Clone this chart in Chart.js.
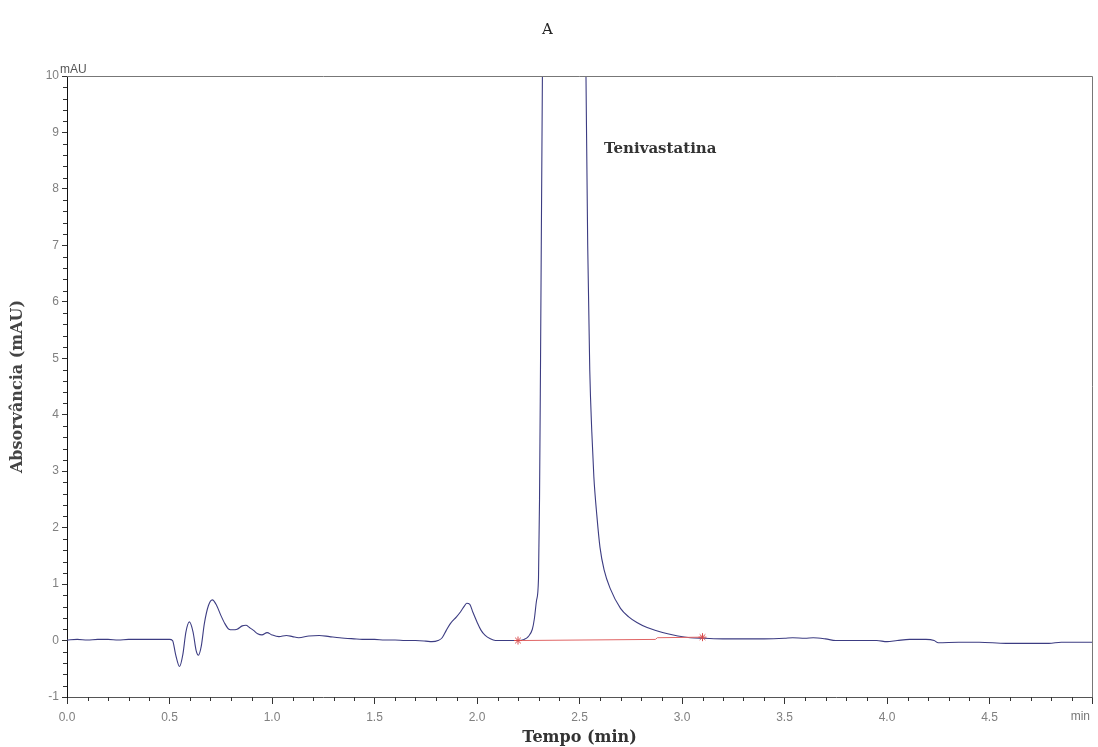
<!DOCTYPE html>
<html>
<head>
<meta charset="utf-8">
<title>Cromatograma A</title>
<script src="https://cdn.jsdelivr.net/npm/chart.js@4.4.1/dist/chart.umd.min.js"></script>
<style>
  html, body { margin: 0; padding: 0; background: #fff; }
  #wrap { width: 1098px; height: 747px; }
</style>
</head>
<body>
<div id="wrap"><canvas id="chromChart" width="1098" height="747"></canvas></div>
<script>
// retention time (min) / signal (mAU)
const retentionTimes = [
  0.00, 0.05, 0.10, 0.15, 0.20, 0.25, 0.30, 0.35, 0.40, 0.45, 0.50,
  0.515, 0.53, 0.549, 0.565, 0.58, 0.597, 0.615, 0.63, 0.641, 0.655, 0.67, 0.69,
  0.709, 0.73, 0.75, 0.77, 0.79, 0.806, 0.83, 0.855, 0.873, 0.89, 0.91, 0.93,
  0.951, 0.976, 1.00, 1.034, 1.07, 1.10, 1.13, 1.18, 1.23, 1.28, 1.33, 1.40,
  1.44, 1.50, 1.55, 1.60, 1.65, 1.70, 1.75, 1.78, 1.81, 1.83, 1.85, 1.87,
  1.90, 1.92, 1.94, 1.95, 1.965, 1.98, 2.00, 2.02, 2.04, 2.065, 2.09, 2.15,
  2.20, 2.23, 2.25, 2.27, 2.28, 2.29, 2.30, 2.305, 2.31, 2.32, 2.34, 2.38,
  2.42, 2.46, 2.50, 2.52, 2.53, 2.54, 2.55, 2.56, 2.57, 2.585, 2.60, 2.62,
  2.65, 2.70, 2.74, 2.78, 2.83, 2.88, 2.93, 2.98, 3.04, 3.11, 3.20, 3.30,
  3.40, 3.50, 3.54, 3.60, 3.64, 3.70, 3.75, 3.85, 3.95, 4.00, 4.05, 4.11,
  4.19, 4.23, 4.25, 4.35, 4.45, 4.58, 4.70, 4.79, 4.85, 5.00
];
const absorbance = [
  0.01, 0.02, 0.01, 0.02, 0.02, 0.01, 0.02, 0.02, 0.02, 0.02, 0.02,
  0.00, -0.25, -0.46, -0.25, 0.15, 0.33, 0.15, -0.18, -0.26, -0.10, 0.30, 0.62,
  0.72, 0.62, 0.45, 0.30, 0.20, 0.19, 0.20, 0.26, 0.27, 0.23, 0.18, 0.12,
  0.10, 0.14, 0.10, 0.07, 0.09, 0.07, 0.05, 0.08, 0.09, 0.07, 0.05, 0.03,
  0.02, 0.02, 0.01, 0.01, 0.00, 0.00, -0.01, -0.02, 0.00, 0.05, 0.18, 0.30,
  0.42, 0.51, 0.62, 0.66, 0.64, 0.50, 0.33, 0.18, 0.09, 0.03, 0.00, 0.00,
  0.00, 0.02, 0.07, 0.20, 0.39, 0.70, 1.10, 2.50, 5.00, 10.5, 18.0, 26.0,
  28.0, 25.0, 19.0, 14.0, 10.6, 7.0, 4.8, 3.7, 2.9, 2.2, 1.65, 1.25,
  0.92, 0.57, 0.42, 0.32, 0.23, 0.17, 0.12, 0.08, 0.05, 0.04, 0.03, 0.03,
  0.03, 0.04, 0.05, 0.04, 0.05, 0.03, 0.00, 0.00, 0.00, -0.02, 0.00, 0.02,
  0.02, 0.00, -0.04, -0.03, -0.03, -0.05, -0.05, -0.05, -0.03, -0.03
];

// integration baseline under the main peak
const baselineTimes = [2.20, 2.87, 2.88, 3.10];
const baselineValues = [0.00, 0.02, 0.05, 0.06];

const xTickLabels = ['0.0', '0.5', '1.0', '1.5', '2.0', '2.5', '3.0', '3.5', '4.0', '4.5', ''];
const peakLabel = { text: 'Tenivastatina', time: 2.62, value: 8.7 };

const serif = '"DejaVu Serif", "Liberation Serif", serif';
const sans = '"Liberation Sans", Arial, sans-serif';

// minor ticks, top/right frame and the little unit labels
const chromDecor = {
    id: 'chromDecor',
    afterDraw(chart) {
        const { ctx, chartArea: area, scales: { x, y } } = chart;
        ctx.save();
        ctx.lineWidth = 1;
        ctx.strokeStyle = '#333';
        ctx.beginPath();
        for (let i = 1; i < 50; i++) {
            if (i % 5 === 0) continue;
            const px = Math.round(x.getPixelForValue(i / 10)) + 0.5;
            ctx.moveTo(px, area.bottom);
            ctx.lineTo(px, area.bottom + 4);
        }
        for (let j = -4; j < 50; j++) {
            if (j % 5 === 0) continue;
            const py = Math.round(y.getPixelForValue(j / 5)) + 0.5;
            ctx.moveTo(area.left - 4, py);
            ctx.lineTo(area.left, py);
        }
        ctx.stroke();

        ctx.strokeStyle = '#777';
        ctx.beginPath();
        ctx.moveTo(area.left, Math.round(area.top) + 0.5);
        ctx.lineTo(Math.round(area.right) + 0.5, Math.round(area.top) + 0.5);
        ctx.lineTo(Math.round(area.right) + 0.5, area.bottom);
        ctx.stroke();

        ctx.fillStyle = '#555';
        ctx.font = '12px ' + sans;
        ctx.textBaseline = 'middle';
        ctx.textAlign = 'left';
        ctx.fillText('mAU', area.left - 7, area.top - 6);
        ctx.textAlign = 'right';
        ctx.fillStyle = '#777';
        ctx.fillText('min', area.right - 2, area.bottom + 20);

        ctx.fillStyle = '#333';
        ctx.font = 'bold 15px ' + serif;
        ctx.textAlign = 'left';
        ctx.fillText(peakLabel.text, x.getPixelForValue(peakLabel.time), y.getPixelForValue(peakLabel.value));
        ctx.restore();
    }
};

function renderChromatogram() {
    const canvas = document.getElementById('chromChart');
    if (!canvas) return;

    const trace = retentionTimes.map((t, i) => ({ x: t, y: absorbance[i] }));
    const baseline = baselineTimes.map((t, i) => ({ x: t, y: baselineValues[i] }));
    const lastBase = baseline.length - 1;

    new Chart(canvas, {
        type: 'line',
        data: {
            datasets: [{
                label: 'Linha de base',
                data: baseline,
                borderColor: '#e06464',
                backgroundColor: '#e06464',
                borderWidth: 1,
                pointStyle: 'star',
                pointRadius: (ctx) => (ctx.dataIndex === 0 || ctx.dataIndex === lastBase) ? 4 : 0,
                pointBorderColor: '#d84a4a',
                pointBorderWidth: 1,
                tension: 0
            }, {
                label: 'Sinal',
                data: trace,
                borderColor: '#3c3c82',
                borderWidth: 1.1,
                pointRadius: 0,
                cubicInterpolationMode: 'monotone',
                fill: false
            }]
        },
        options: {
            responsive: false,
            animation: false,
            events: [],
            layout: { padding: { top: 0, right: 3, bottom: 0, left: 0 } },
            plugins: {
                legend: { display: false },
                tooltip: { enabled: false },
                title: {
                    display: true,
                    text: 'A',
                    color: '#222',
                    font: { family: serif, size: 15, weight: 'normal' },
                    padding: { top: 21, bottom: 37 }
                }
            },
            scales: {
                x: {
                    type: 'linear',
                    min: 0,
                    max: 5,
                    afterFit: (scale) => { scale.height = 50; },
                    ticks: {
                        stepSize: 0.5,
                        autoSkip: false,
                        maxRotation: 0,
                        padding: 6,
                        color: '#808080',
                        font: { family: sans, size: 12 },
                        callback: (v, i) => xTickLabels[i]
                    },
                    grid: { drawOnChartArea: false, tickLength: 7, color: '#333' },
                    border: { color: '#555' },
                    title: {
                        display: true,
                        text: 'Tempo (min)',
                        color: '#333',
                        font: { family: serif, size: 16, weight: 'bold' },
                        padding: { top: 0, bottom: 0 }
                    }
                },
                y: {
                    min: -1,
                    max: 10,
                    afterFit: (scale) => { scale.width = 67; },
                    ticks: {
                        stepSize: 1,
                        padding: 3,
                        color: '#808080',
                        font: { family: sans, size: 12 },
                        callback: (v) => String(v)
                    },
                    grid: { drawOnChartArea: false, tickLength: 5, color: '#333' },
                    border: { color: '#111' },
                    title: {
                        display: true,
                        text: 'Absorvância (mAU)',
                        color: '#444',
                        font: { family: serif, size: 16, weight: 'bold' },
                        padding: { top: 8, bottom: 0 }
                    }
                }
            }
        },
        plugins: [chromDecor]
    });
}

document.addEventListener('DOMContentLoaded', renderChromatogram);
</script>
</body>
</html>
